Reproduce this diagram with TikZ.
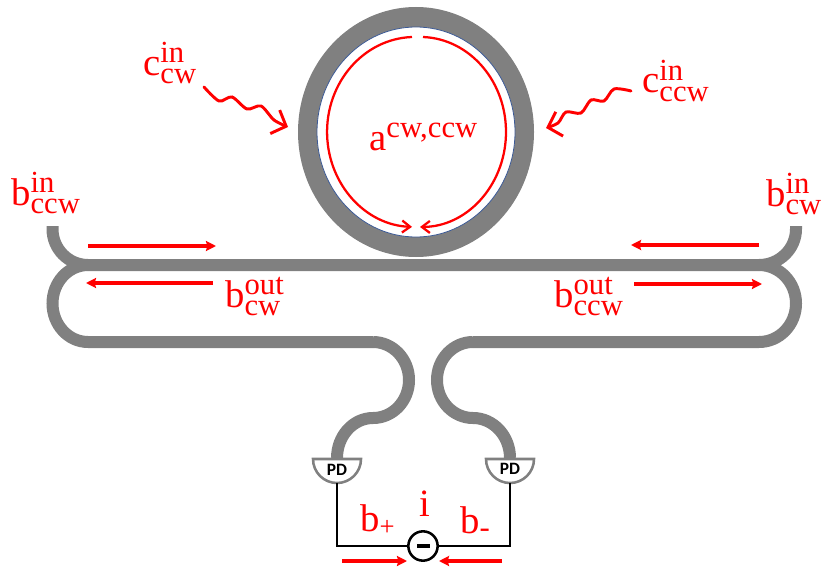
\documentclass[tikz,border=0pt]{standalone}
\usepackage{fontspec}
\setmainfont{Liberation Serif}
\newfontfamily\pdfont{Carlito}
\DeclareMathSizes{29}{29}{23}{16}
\newcommand{\smalltag}[2]{\mbox{\fontsize{#1}{#1}\selectfont #2}}
\usetikzlibrary{arrows.meta}
\definecolor{guidegray}{RGB}{128,128,128}
\definecolor{ringblue}{RGB}{60,90,150}
\tikzset{
  guide/.style={draw=guidegray,line width=9pt},
  flow/.style={draw=red,line width=2.5pt,-{Stealth[length=7.5pt,width=7.5pt,inset=1pt]}},
  loopflow/.style={draw=red,line width=1.7pt},
  looptip/.style={loopflow,-{Straight Barb[length=6pt,width=9pt]}},
  wavy/.style={draw=red,line width=2.2pt,line cap=round,-{Straight Barb[length=9pt,width=19pt]}},
  sig/.style={text=red,inner sep=0pt,anchor=base west,font=\fontsize{29}{32}\selectfont},
  pdcup/.style={draw=guidegray,fill=white,line width=1.9pt},
  pdbox/.style={inner sep=0pt,font=\pdfont\bfseries\fontsize{13}{14}\selectfont},
  wire/.style={draw=black,line width=1.6pt}
}
\begin{document}
\begin{tikzpicture}[x=0.75pt,y=-0.75pt]
\useasboundingbox (0,0) rectangle (831,567);
% ring
\fill[guidegray] (416,132) ellipse (118 and 125);
\draw[ringblue,fill=white,line width=0.6pt] (416,132) ellipse (99 and 105);
\draw[looptip] (412,37) arc (268:92:88 and 95);
\draw[looptip] (423,37) arc (272:450:86 and 95);
% waveguides
\draw[guide] (52.5,226) -- (52.5,229) arc (180:90:35.5 and 36) -- (759,265) arc (90:0:37 and 36) -- (796,226);
\draw[guide] (373,342) -- (88,342) arc (90:270:35.5 and 38.5);
\draw[guide] (473,342) -- (759,342) arc (90:-90:37 and 38.5);
\draw[guide] (373,342) arc (270:450:36 and 38) arc (270:180:36 and 40);
\draw[guide] (473,342) arc (270:90:36 and 38) arc (270:360:37 and 40);
% detectors
\draw[pdcup] (313,459) -- (361,459) arc (0:180:24 and 24) -- cycle;
\draw[pdcup] (486,459) -- (534,459) arc (0:180:24 and 24) -- cycle;
\node[pdbox] (pdleft) at (337,470) {PD};
\node[pdbox] (pdright) at (510,469) {PD};
\coordinate (pdleftout) at (337,483);
\coordinate (pdrightout) at (510,483);
\node[draw=black,fill=white,line width=1.9pt,circle,inner sep=0pt,minimum size=22pt] (sub) at (423,546) {};
\draw[wire] (pdleftout) |- (sub.west);
\draw[wire] (pdrightout) |- (sub.east);
\draw[black,line width=2.4pt] (417,546) -- (430,546);
% field arrows
\draw[flow] (88,246) -- (216,246);
\draw[flow] (213,283) -- (86,283);
\draw[flow] (759,245) -- (631,245);
\draw[flow] (634,284) -- (762,284);
\draw[flow] (342,561) -- (407,561);
\draw[flow] (502,561) -- (439,561);
\draw[wavy] plot[smooth] coordinates {(204,87) (219,101) (232,97) (247,109) (261,106) (274,120) (288,127)};
\draw[wavy] plot[smooth] coordinates {(631,91) (614,89) (604,101) (591,100) (581,113) (566,112) (558,123) (546,128)};
% labels
\node[sig] (cin) at (143,75) {$\mathrm{c}^{\mathrm{in}}_{\mathrm{cw}}$};
\node[sig] (ccin) at (642,93) {$\mathrm{c}^{\mathrm{in}}_{\mathrm{ccw}}$};
\node[sig] (aring) at (369,150) {$\mathrm{a}^{\smalltag{23}{cw,ccw}}$};
\node[sig] (bccin) at (11,205) {$\mathrm{b}^{\mathrm{in}}_{\mathrm{ccw}}$};
\node[sig] (bcin) at (766,206) {$\mathrm{b}^{\mathrm{in}}_{\mathrm{cw}}$};
\node[sig] (bcout) at (225,307) {$\mathrm{b}^{\mathrm{out}}_{\mathrm{cw}}$};
\node[sig] (bccout) at (554,307) {$\mathrm{b}^{\mathrm{out}}_{\mathrm{ccw}}$};
\node[sig] (cur) at (419,516) {i};
\node[sig] (bplus) at (360,531) {$\mathrm{b}_{\smalltag{20}{+}}$};
\node[sig] (bminus) at (460,533) {$\mathrm{b}_{\smalltag{23}{-}}$};
\end{tikzpicture}
\end{document}
